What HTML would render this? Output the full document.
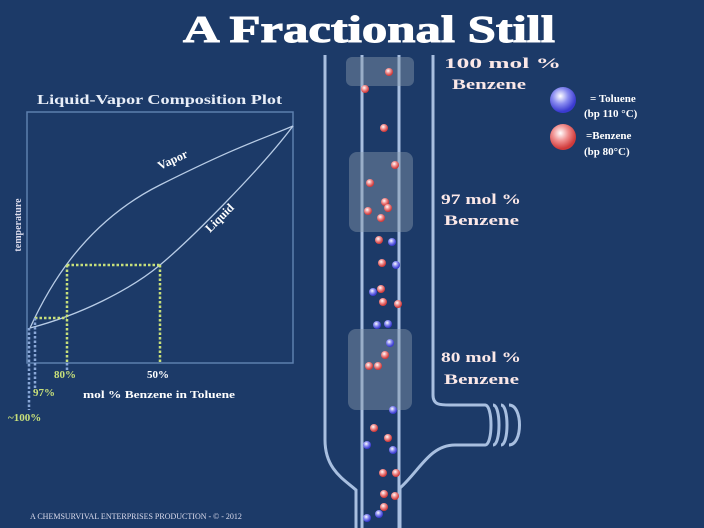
<!DOCTYPE html>
<html><head><style>
body{margin:0;width:704px;height:528px;background:#1c3a68;overflow:hidden;font-family:"Liberation Serif",serif;}
svg{position:absolute;left:0;top:0}
</style></head><body>
<svg width="704" height="528" viewBox="0 0 704 528">
<defs>
<radialGradient id="b" cx="40%" cy="35%" r="60%"><stop offset="0" stop-color="#fff"/><stop offset="0.5" stop-color="#8a8cf0"/><stop offset="1" stop-color="#3a3ad0"/></radialGradient>
<radialGradient id="r" cx="40%" cy="35%" r="60%"><stop offset="0" stop-color="#fff"/><stop offset="0.5" stop-color="#f09090"/><stop offset="1" stop-color="#d03a3a"/></radialGradient>
</defs>
<text x="183" y="42" textLength="372" lengthAdjust="spacingAndGlyphs" font-size="38" font-weight="bold" fill="#fff" stroke="#fff" stroke-width="1">A Fractional Still</text>
<text x="37" y="104" textLength="245" lengthAdjust="spacingAndGlyphs" font-size="14" font-weight="bold" fill="#e8eef8">Liquid-Vapor Composition Plot</text>
<rect x="27" y="112" width="266" height="251" fill="none" stroke="#5d7fae" stroke-width="1.5"/>
<text transform="translate(21,225) rotate(-90)" text-anchor="middle" font-size="10" font-weight="bold" fill="#dde">temperature</text>
<path d="M30,328 C45,295 80,225 160,185 S260,140 293,126" fill="none" stroke="#b8cce6" stroke-width="1.3"/>
<path d="M30,328 C80,315 130,290 160,265 S260,170 293,126" fill="none" stroke="#b8cce6" stroke-width="1.3"/>
<text transform="translate(160,170) rotate(-25)" font-size="12" font-weight="bold" fill="#fff">Vapor</text>
<text transform="translate(210,233) rotate(-45)" font-size="12" font-weight="bold" fill="#fff">Liquid</text>
<g stroke="#c8e07a" stroke-width="2.5" stroke-dasharray="2.5,2" fill="none">
<path d="M67,265 H160 M67,265 V363 M160,265 V363 M35,318 H67"/>
</g>
<g stroke="#8aa8d8" stroke-width="2.5" stroke-dasharray="2.5,2" fill="none">
<path d="M67,363 V370 M35,318 V390 M29,328 V410"/>
</g>
<text x="54" y="378" font-size="11" font-weight="bold" fill="#c8e07a">80%</text>
<text x="147" y="378" font-size="11" font-weight="bold" fill="#fff">50%</text>
<text x="33" y="396" font-size="11" font-weight="bold" fill="#c8e07a">97%</text>
<text x="83" y="398" textLength="152" lengthAdjust="spacingAndGlyphs" font-size="11" font-weight="bold" fill="#fff">mol % Benzene in Toluene</text>
<text x="8" y="421" font-size="11" font-weight="bold" fill="#c8e07a">~100%</text>
<g stroke="#a8bfe0" stroke-width="3" fill="none">
<path d="M325,55 V440 C325,470 345,480 356,490 V528"/>
<path d="M433,55 V395 C433,405 440,405 450,405 H485"/>
<path d="M485,445 H455 C430,445 420,470 400,488 V528"/>
<path d="M362,55 V528"/>
<path d="M399,55 V528"/>
<path d="M485,405 c8,0 8,40 0,40 M493,405 c8,0 8,40 0,40 M501,405 c8,0 8,40 0,40 M509,405 c14,0 14,40 0,40"/>
</g>
<g fill="#8898aa" fill-opacity="0.45">
<rect x="346" y="57" width="68" height="29" rx="6"/>
<rect x="349" y="152" width="64" height="80" rx="8"/>
<rect x="348" y="329" width="64" height="81" rx="8"/>
</g>
<g>
<circle cx="389" cy="72" r="4" fill="url(#r)"/><circle cx="365" cy="89" r="4" fill="url(#r)"/>
<circle cx="384" cy="128" r="4" fill="url(#r)"/><circle cx="395" cy="165" r="4" fill="url(#r)"/>
<circle cx="370" cy="183" r="4" fill="url(#r)"/><circle cx="385" cy="202" r="4" fill="url(#r)"/>
<circle cx="368" cy="211" r="4" fill="url(#r)"/><circle cx="388" cy="208" r="4" fill="url(#r)"/>
<circle cx="381" cy="218" r="4" fill="url(#r)"/><circle cx="379" cy="240" r="4" fill="url(#r)"/>
<circle cx="392" cy="242" r="4" fill="url(#b)"/><circle cx="382" cy="263" r="4" fill="url(#r)"/>
<circle cx="396" cy="265" r="4" fill="url(#b)"/><circle cx="381" cy="289" r="4" fill="url(#r)"/>
<circle cx="373" cy="292" r="4" fill="url(#b)"/><circle cx="383" cy="302" r="4" fill="url(#r)"/>
<circle cx="398" cy="304" r="4" fill="url(#r)"/><circle cx="377" cy="325" r="4" fill="url(#b)"/>
<circle cx="388" cy="324" r="4" fill="url(#b)"/><circle cx="390" cy="343" r="4" fill="url(#b)"/>
<circle cx="385" cy="355" r="4" fill="url(#r)"/><circle cx="369" cy="366" r="4" fill="url(#r)"/>
<circle cx="378" cy="366" r="4" fill="url(#r)"/><circle cx="393" cy="410" r="4" fill="url(#b)"/>
<circle cx="374" cy="428" r="4" fill="url(#r)"/><circle cx="388" cy="438" r="4" fill="url(#r)"/>
<circle cx="367" cy="445" r="4" fill="url(#b)"/><circle cx="393" cy="450" r="4" fill="url(#b)"/>
<circle cx="383" cy="473" r="4" fill="url(#r)"/><circle cx="396" cy="473" r="4" fill="url(#r)"/>
<circle cx="384" cy="494" r="4" fill="url(#r)"/><circle cx="395" cy="496" r="4" fill="url(#r)"/>
<circle cx="384" cy="507" r="4" fill="url(#r)"/><circle cx="379" cy="514" r="4" fill="url(#b)"/>
<circle cx="367" cy="518" r="4" fill="url(#b)"/>
</g>
<g font-size="15" font-weight="bold" fill="#fbe8e8">
<text x="444" y="68" textLength="117" lengthAdjust="spacingAndGlyphs">100 mol %</text><text x="452" y="89" textLength="74" lengthAdjust="spacingAndGlyphs">Benzene</text>
<text x="441" y="204" textLength="80" lengthAdjust="spacingAndGlyphs">97 mol %</text><text x="444" y="225" textLength="75" lengthAdjust="spacingAndGlyphs">Benzene</text>
<text x="441" y="362" textLength="80" lengthAdjust="spacingAndGlyphs">80 mol %</text><text x="444" y="384" textLength="75" lengthAdjust="spacingAndGlyphs">Benzene</text>
</g>
<circle cx="563" cy="100" r="13" fill="url(#b)"/>
<circle cx="563" cy="137" r="13" fill="url(#r)"/>
<g font-size="11" font-weight="bold" fill="#fff">
<text x="590" y="102">= Toluene</text><text x="584" y="117">(bp  110 °C)</text>
<text x="586" y="139">=Benzene</text><text x="584" y="155">(bp 80°C)</text>
</g>
<text x="30" y="519" font-size="8" fill="#dde">A CHEMSURVIVAL ENTERPRISES PRODUCTION - © - 2012</text>
</svg>
</body></html>
